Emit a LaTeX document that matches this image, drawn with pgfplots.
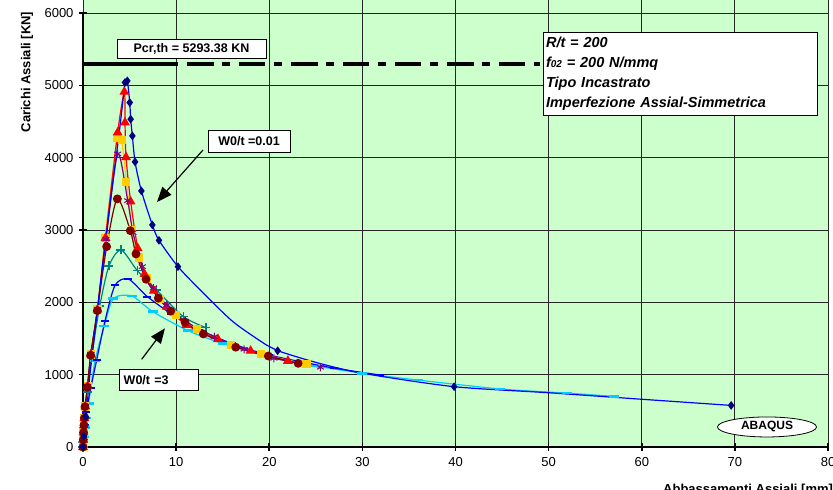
\documentclass[border=0pt]{standalone}
\usepackage{fontspec}
\setmainfont{Liberation Sans}
\usepackage{pgfplots}
\pgfplotsset{compat=1.18}
\usetikzlibrary{arrows.meta,shapes.geometric}
\definecolor{bgc}{RGB}{204,255,204}
\definecolor{navy}{RGB}{0,0,128}
\definecolor{dred}{RGB}{128,0,0}
\definecolor{purp}{RGB}{128,0,128}
\definecolor{teal2}{RGB}{0,128,128}
\definecolor{gold}{RGB}{255,204,0}
\definecolor{lblue}{RGB}{0,204,255}
\newcommand{\fs}[1]{\fontsize{#1}{#1}\selectfont}
\begin{document}
\begin{tikzpicture}
\begin{axis}[
 scale only axis, width=745pt, height=447pt,
 xmin=0, xmax=80, ymin=0, ymax=6179.7,
 xtick={0,10,...,80}, ytick={0,1000,...,6000},
 axis x line*=bottom, axis y line*=left,
 y axis line style={draw=none},
 x axis line style={line width=2.2pt,-},
 axis background/.style={fill=bgc},
 grid=major, major grid style={black!85,line width=0.8pt},
 tick align=center, major tick length=8pt,
 every tick/.style={black,line width=1.6pt},
 tick label style={font=\fs{13}},
 yticklabel style={xshift=-2pt},
 xticklabel style={yshift=-3pt},
 /pgf/number format/assume math mode=true,
 /pgf/number format/set thousands separator={},
 clip=false,
 every axis plot/.append style={line width=1.2pt, smooth, tension=0.45},
]
\draw[line width=2.2pt] (axis cs:0,0) -- (axis cs:0,6000);
% Pcr line
\addplot[black, line width=4pt, no marks, dash pattern=on 26pt off 9pt on 8pt off 9pt] coordinates {(0,5293.38) (49.1,5293.38)};
\addplot[black, line width=4pt, no marks] coordinates {(0,5293.38) (10.1,5293.38)};
% light blue W0/t=3
\addplot[color=lblue, mark=-, mark size=5pt, mark options={line width=2.6pt,solid}] coordinates {
(0,0)(0.05,70)(0.1,140)(0.2,270)(0.35,400)(0.6,600)(1.29,1189)(2.29,1673)(3.26,2051)(5.23,2088)(7.48,1872)(11.28,1609)(15,1430)(20,1250)(25,1120)(30,1020)(36,925)(44.8,802)(52,745)(57,700)};
% blue
\addplot[color=blue, mark=-, mark size=4pt, mark options={line width=2.2pt,solid}] coordinates {
(0,0)(0.05,80)(0.1,160)(0.2,300)(0.35,480)(0.82,811)(1.47,1203)(2.36,1743)(3.44,2236)(4.87,2323)(6.91,2079)(9.5,1840)(12.5,1620)(16,1430)(20,1270)(26.9,1092)(31.9,996)};
% teal
\addplot[color=teal2, mark=+, mark size=4.5pt, mark options={line width=1.2pt,solid}] coordinates {
(0,0)(0.05,100)(0.1,200)(0.15,300)(0.22,400)(0.5,760)(0.9,1230)(1.8,1950)(2.79,2503)(4.08,2724)(5.84,2438)(7.91,2171)(10.77,1802)(13.2,1650)};
% yellow
\addplot[color=gold, mark=square*, mark size=3.5pt, mark options={fill=gold,draw=gold,solid}] coordinates {
(0,0)(0.03,100)(0.06,200)(0.1,300)(0.15,400)(0.25,560)(0.5,840)(0.85,1280)(1.55,1900)(2.36,2886)(3.69,4269)(4.15,4246)(4.66,3660)(5.3,3000)(6.0,2620)(6.9,2330)(8.3,2050)(10.0,1830)(12.2,1630)(15.9,1410)(19.1,1286)(24.0,1143)};
% red
\addplot[color=red, mark=triangle*, mark size=4.5pt, mark options={fill=red,draw=red,solid}] coordinates {
(0,0)(0.03,100)(0.06,200)(0.1,300)(0.15,400)(0.25,560)(0.5,840)(0.85,1280)(1.55,1900)(2.42,2890)(3.72,4347)(4.44,4910)(4.51,4485)(4.62,4006)(5.12,3392)(5.87,2748)(6.6,2390)(7.6,2160)(9.0,1940)(11.1,1687)(14.5,1489)(18.0,1330)(22.0,1190)};
% purple
\addplot[color=purp, mark=asterisk, mark size=4pt, mark options={line width=1pt,solid}] coordinates {
(0,0)(0.03,100)(0.06,200)(0.1,300)(0.15,400)(0.25,560)(0.5,840)(0.85,1280)(1.55,1900)(2.47,2872)(3.72,4052)(4.80,3406)(5.37,2964)(6.37,2494)(7.55,2195)(9.0,1960)(11.0,1740)(14.1,1525)(17.3,1351)(20.5,1226)(25.5,1102)};
% dark red
\addplot[color=dred, mark=*, mark size=3.8pt, mark options={fill=dred,draw=dred,solid}] coordinates {
(0,0)(0.03,100)(0.06,200)(0.1,300)(0.15,400)(0.21,557)(0.46,826)(0.82,1268)(1.54,1885)(2.54,2770)(3.69,3430)(5.08,2991)(5.69,2669)(6.77,2319)(8.09,2057)(9.42,1877)(10.96,1724)(12.92,1563)(16.4,1380)(19.9,1258)(23.1,1157)};
% navy W0/t=0.01
\addplot[color=blue, mark=diamond*, mark size=3.4pt, mark options={fill=navy,draw=navy,solid},
 mark indices={1,2,3,10,11,12,13,14,15,16,17,18,19,23,26,29}] coordinates {
(0,0)(0.1,150)(0.3,420)(0.7,950)(1.2,1500)(2.0,2400)(3.0,3450)(3.8,4250)(4.3,4800)(4.51,5040)(4.76,5062)(5.02,4762)(5.12,4532)(5.30,4301)(5.59,3942)(6.27,3540)(7.45,3070)(8.16,2857)(10.2,2493)(12.6,2170)(16.1,1733)(19.7,1410)(20.9,1331)(25.0,1170)(30.0,1020)(39.85,834)(50.0,750)(60.0,660)(69.6,575)};
% annotations
\node[draw=black, line width=0.8pt, fill=white, minimum width=149pt, minimum height=19pt, inner sep=0pt, font=\bfseries\fs{12.5}] at (axis cs:11.65,5509) {Pcr,th = 5293.38 KN};
\node[draw=black, line width=0.8pt, fill=white, anchor=north west, minimum width=274pt, minimum height=83pt, text width=268pt, align=left, inner xsep=3pt, inner ysep=0pt, font=\bfseries\itshape\fontsize{14.5}{19.8}\selectfont] at (axis cs:49.36,5741) {R/t = 200\\ f{\fs{10}02} = 200 N/mmq\\ Tipo Incastrato\\ Imperfezione Assial-Simmetrica};
\node[draw=black, line width=0.8pt, fill=white, minimum width=82pt, minimum height=22pt, inner sep=0pt, font=\bfseries\fs{12.5}] at (axis cs:17.83,4230) {W0/t =0.01};
\node[draw=black, line width=0.8pt, fill=white, anchor=west, minimum height=21pt, text width=71pt, align=left, inner xsep=4pt, inner ysep=0pt, font=\bfseries\fs{12.5}] at (axis cs:3.90,930) {W0/t =3};
\node[draw=black, line width=0.8pt, fill=white, ellipse, minimum width=99pt, minimum height=20pt, inner sep=0pt, font=\bfseries\fs{12}] at (axis cs:73.45,277) {ABAQUS};
\draw[line width=1.2pt, -{Triangle[length=15pt,width=12pt]}] (axis cs:12.886,4106) -- (axis cs:7.946,3387);
\draw[line width=1.2pt, -{Triangle[length=15pt,width=12pt]}] (axis cs:6.30,1212) -- (axis cs:8.805,1641);
\node[rotate=90, font=\bfseries\fs{13}] at (axis cs:-6.01,5184) {Carichi Assiali [KN]};
\node[anchor=north west, inner sep=0pt, font=\bfseries\fs{13}] at (axis cs:62.28,-511) {Abbassamenti Assiali [mm]};
\coordinate (O) at (rel axis cs:0,0);
\coordinate (T) at (rel axis cs:1,1);
\end{axis}
\pgfresetboundingbox
\useasboundingbox ([shift={(-83pt,-42pt)}]O) rectangle ([shift={(5pt,0pt)}]T);
\end{tikzpicture}
\end{document}
